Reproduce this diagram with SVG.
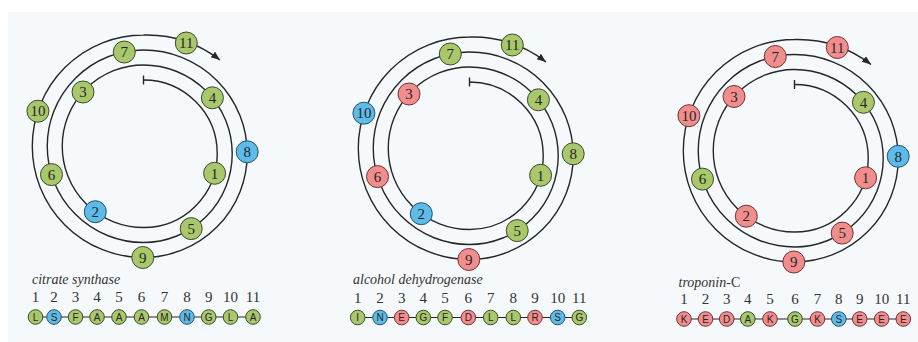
<svg xmlns="http://www.w3.org/2000/svg" xmlns:xlink="http://www.w3.org/1999/xlink" width="918" height="342" viewBox="0 0 918 342">
  <style>
    .sp{fill:none;stroke:#262626;stroke-width:1.4}
    .ln{stroke:#262626;stroke-width:1}
    .g{fill:#a9c76b;stroke:#3d4a2c;stroke-width:1}
    .b{fill:#5cbbe8;stroke:#2c4f66;stroke-width:1}
    .r{fill:#f28d8d;stroke:#6e3434;stroke-width:1}
    .wn{font-family:"Liberation Serif",serif;font-size:15px;fill:#262626;text-anchor:middle}
    .sl{font-family:"Liberation Sans",sans-serif;font-size:10px;fill:#262626;text-anchor:middle}
    .num{font-family:"Liberation Serif",serif;font-size:15px;fill:#333333;text-anchor:middle}
    .name{font-family:"Liberation Serif",serif;font-size:14px;font-style:italic;fill:#333333}
  </style>
  <defs>
    <marker id="ah" markerUnits="userSpaceOnUse" markerWidth="11" markerHeight="9" refX="9" refY="3.5" orient="auto">
      <path d="M0,0 L9,3.5 L0,7 Z" fill="#262626"/>
    </marker>
    <!-- helical wheel spiral: two-centre half-circle spiral, 100 degrees per residue -->
    <g id="spiral">
      <path class="sp" marker-end="url(#ah)" d="M143.5,80 A73.75,73.75 0 0 1 143.5,227.5 A81.25,81.25 0 0 1 143.5,65 A88.75,88.75 0 0 1 143.5,242.5 A96.25,96.25 0 0 1 143.5,50 A103.75,103.75 0 0 1 143.5,257.5 A111.25,111.25 0 0 1 143.5,35 A120,120 0 0 1 220,60"/>
      <line class="sp" x1="143.5" y1="75.5" x2="143.5" y2="84.5"/>
    </g>
  </defs>

  <!-- page background -->
  <rect width="918" height="342" fill="#ffffff"/>
  <rect x="8" y="12" width="910" height="330" fill="#f6f9fb"/>

  <g id="connectors">
    <use xlink:href="#spiral" href="#spiral"/>
    <use xlink:href="#spiral" href="#spiral" transform="translate(326,2)"/>
    <use xlink:href="#spiral" href="#spiral" transform="translate(651,4.5)"/>
    <line class="ln" x1="35.5" y1="317" x2="253" y2="317"/>
    <line class="ln" x1="357.7" y1="317.5" x2="579.3" y2="317.5"/>
    <line class="ln" x1="684" y1="319" x2="903.3" y2="319"/>
  </g>

  <!-- citrate synthase wheel -->
  <g id="wheel-cs">
    <g id="cs-w1" transform="translate(214.6,173.3)"><circle class="g" r="11"/><text class="wn" y="5.2">1</text></g>
    <g id="cs-w2" transform="translate(95.3,211.7)"><circle class="b" r="11"/><text class="wn" y="5.2">2</text></g>
    <g id="cs-w3" transform="translate(83,92)"><circle class="g" r="11"/><text class="wn" y="5.2">3</text></g>
    <g id="cs-w4" transform="translate(212.4,97.8)"><circle class="g" r="11"/><text class="wn" y="5.2">4</text></g>
    <g id="cs-w5" transform="translate(191.2,228.6)"><circle class="g" r="11"/><text class="wn" y="5.2">5</text></g>
    <g id="cs-w6" transform="translate(51.5,174.6)"><circle class="g" r="11"/><text class="wn" y="5.2">6</text></g>
    <g id="cs-w7" transform="translate(124.3,52)"><circle class="g" r="11"/><text class="wn" y="5.2">7</text></g>
    <g id="cs-w8" transform="translate(247.2,151.8)"><circle class="b" r="11"/><text class="wn" y="5.2">8</text></g>
    <g id="cs-w9" transform="translate(142.8,257.5)"><circle class="g" r="11"/><text class="wn" y="5.2">9</text></g>
    <g id="cs-w10" transform="translate(37.9,111.2)"><circle class="g" r="11"/><text class="wn" y="5.2">10</text></g>
    <g id="cs-w11" transform="translate(186.3,43)"><circle class="g" r="11"/><text class="wn" y="5.2">11</text></g>
  </g>

  <!-- alcohol dehydrogenase wheel -->
  <g id="wheel-adh" transform="translate(326,2)">
    <g id="adh-w1" transform="translate(214.6,173.3)"><circle class="g" r="11"/><text class="wn" y="5.2">1</text></g>
    <g id="adh-w2" transform="translate(95.3,211.7)"><circle class="b" r="11"/><text class="wn" y="5.2">2</text></g>
    <g id="adh-w3" transform="translate(83,92)"><circle class="r" r="11"/><text class="wn" y="5.2">3</text></g>
    <g id="adh-w4" transform="translate(212.4,97.8)"><circle class="g" r="11"/><text class="wn" y="5.2">4</text></g>
    <g id="adh-w5" transform="translate(191.2,228.6)"><circle class="g" r="11"/><text class="wn" y="5.2">5</text></g>
    <g id="adh-w6" transform="translate(51.5,174.6)"><circle class="r" r="11"/><text class="wn" y="5.2">6</text></g>
    <g id="adh-w7" transform="translate(124.3,52)"><circle class="g" r="11"/><text class="wn" y="5.2">7</text></g>
    <g id="adh-w8" transform="translate(247.2,151.8)"><circle class="g" r="11"/><text class="wn" y="5.2">8</text></g>
    <g id="adh-w9" transform="translate(142.8,257.5)"><circle class="r" r="11"/><text class="wn" y="5.2">9</text></g>
    <g id="adh-w10" transform="translate(37.9,111.2)"><circle class="b" r="11"/><text class="wn" y="5.2">10</text></g>
    <g id="adh-w11" transform="translate(186.3,43)"><circle class="g" r="11"/><text class="wn" y="5.2">11</text></g>
  </g>

  <!-- troponin-C wheel -->
  <g id="wheel-tnc" transform="translate(651,4.5)">
    <g id="tnc-w1" transform="translate(214.6,173.3)"><circle class="r" r="11"/><text class="wn" y="5.2">1</text></g>
    <g id="tnc-w2" transform="translate(95.3,211.7)"><circle class="r" r="11"/><text class="wn" y="5.2">2</text></g>
    <g id="tnc-w3" transform="translate(83,92)"><circle class="r" r="11"/><text class="wn" y="5.2">3</text></g>
    <g id="tnc-w4" transform="translate(212.4,97.8)"><circle class="g" r="11"/><text class="wn" y="5.2">4</text></g>
    <g id="tnc-w5" transform="translate(191.2,228.6)"><circle class="r" r="11"/><text class="wn" y="5.2">5</text></g>
    <g id="tnc-w6" transform="translate(51.5,174.6)"><circle class="g" r="11"/><text class="wn" y="5.2">6</text></g>
    <g id="tnc-w7" transform="translate(124.3,52)"><circle class="r" r="11"/><text class="wn" y="5.2">7</text></g>
    <g id="tnc-w8" transform="translate(247.2,151.8)"><circle class="b" r="11"/><text class="wn" y="5.2">8</text></g>
    <g id="tnc-w9" transform="translate(142.8,257.5)"><circle class="r" r="11"/><text class="wn" y="5.2">9</text></g>
    <g id="tnc-w10" transform="translate(37.9,111.2)"><circle class="r" r="11"/><text class="wn" y="5.2">10</text></g>
    <g id="tnc-w11" transform="translate(186.3,43)"><circle class="r" r="11"/><text class="wn" y="5.2">11</text></g>
  </g>

  <!-- sequence rows -->
  <g id="seq-cs">
    <text class="name" x="32" y="284">citrate synthase</text>
    <g id="cs-s1" transform="translate(35.5,317)"><text class="num" y="-15">1</text><circle class="g" r="7.3"/><text class="sl" y="3.6">L</text></g>
    <g id="cs-s2" transform="translate(54,317)"><text class="num" y="-15">2</text><circle class="b" r="7.3"/><text class="sl" y="3.6">S</text></g>
    <g id="cs-s3" transform="translate(75.5,317)"><text class="num" y="-15">3</text><circle class="g" r="7.3"/><text class="sl" y="3.6">F</text></g>
    <g id="cs-s4" transform="translate(97,317)"><text class="num" y="-15">4</text><circle class="g" r="7.3"/><text class="sl" y="3.6">A</text></g>
    <g id="cs-s5" transform="translate(119,317)"><text class="num" y="-15">5</text><circle class="g" r="7.3"/><text class="sl" y="3.6">A</text></g>
    <g id="cs-s6" transform="translate(141.5,317)"><text class="num" y="-15">6</text><circle class="g" r="7.3"/><text class="sl" y="3.6">A</text></g>
    <g id="cs-s7" transform="translate(164.5,317)"><text class="num" y="-15">7</text><circle class="g" r="7.3"/><text class="sl" y="3.6">M</text></g>
    <g id="cs-s8" transform="translate(187,317)"><text class="num" y="-15">8</text><circle class="b" r="7.3"/><text class="sl" y="3.6">N</text></g>
    <g id="cs-s9" transform="translate(208.7,317)"><text class="num" y="-15">9</text><circle class="g" r="7.3"/><text class="sl" y="3.6">G</text></g>
    <g id="cs-s10" transform="translate(230.5,317)"><text class="num" y="-15">10</text><circle class="g" r="7.3"/><text class="sl" y="3.6">L</text></g>
    <g id="cs-s11" transform="translate(253,317)"><text class="num" y="-15">11</text><circle class="g" r="7.3"/><text class="sl" y="3.6">A</text></g>
  </g>

  <g id="seq-adh">
    <text class="name" x="353" y="283.5">alcohol dehydrogenase</text>
    <g id="adh-s1" transform="translate(357.7,317.5)"><text class="num" y="-15">1</text><circle class="g" r="7.3"/><text class="sl" y="3.6">I</text></g>
    <g id="adh-s2" transform="translate(380,317.5)"><text class="num" y="-15">2</text><circle class="b" r="7.3"/><text class="sl" y="3.6">N</text></g>
    <g id="adh-s3" transform="translate(401.7,317.5)"><text class="num" y="-15">3</text><circle class="r" r="7.3"/><text class="sl" y="3.6">E</text></g>
    <g id="adh-s4" transform="translate(423.3,317.5)"><text class="num" y="-15">4</text><circle class="g" r="7.3"/><text class="sl" y="3.6">G</text></g>
    <g id="adh-s5" transform="translate(445,317.5)"><text class="num" y="-15">5</text><circle class="g" r="7.3"/><text class="sl" y="3.6">F</text></g>
    <g id="adh-s6" transform="translate(468.3,317.5)"><text class="num" y="-15">6</text><circle class="r" r="7.3"/><text class="sl" y="3.6">D</text></g>
    <g id="adh-s7" transform="translate(490.7,317.5)"><text class="num" y="-15">7</text><circle class="g" r="7.3"/><text class="sl" y="3.6">L</text></g>
    <g id="adh-s8" transform="translate(513.3,317.5)"><text class="num" y="-15">8</text><circle class="g" r="7.3"/><text class="sl" y="3.6">L</text></g>
    <g id="adh-s9" transform="translate(535,317.5)"><text class="num" y="-15">9</text><circle class="r" r="7.3"/><text class="sl" y="3.6">R</text></g>
    <g id="adh-s10" transform="translate(557.7,317.5)"><text class="num" y="-15">10</text><circle class="b" r="7.3"/><text class="sl" y="3.6">S</text></g>
    <g id="adh-s11" transform="translate(579.3,317.5)"><text class="num" y="-15">11</text><circle class="g" r="7.3"/><text class="sl" y="3.6">G</text></g>
  </g>

  <g id="seq-tnc">
    <text class="name" x="678.5" y="286.5">troponin<tspan font-style="normal">-C</tspan></text>
    <g id="tnc-s1" transform="translate(684,319)"><text class="num" y="-15">1</text><circle class="r" r="7.3"/><text class="sl" y="3.6">K</text></g>
    <g id="tnc-s2" transform="translate(705.5,319)"><text class="num" y="-15">2</text><circle class="r" r="7.3"/><text class="sl" y="3.6">E</text></g>
    <g id="tnc-s3" transform="translate(726.7,319)"><text class="num" y="-15">3</text><circle class="r" r="7.3"/><text class="sl" y="3.6">D</text></g>
    <g id="tnc-s4" transform="translate(747.8,319)"><text class="num" y="-15">4</text><circle class="g" r="7.3"/><text class="sl" y="3.6">A</text></g>
    <g id="tnc-s5" transform="translate(770,319)"><text class="num" y="-15">5</text><circle class="r" r="7.3"/><text class="sl" y="3.6">K</text></g>
    <g id="tnc-s6" transform="translate(795,319)"><text class="num" y="-15">6</text><circle class="g" r="7.3"/><text class="sl" y="3.6">G</text></g>
    <g id="tnc-s7" transform="translate(817.5,319)"><text class="num" y="-15">7</text><circle class="r" r="7.3"/><text class="sl" y="3.6">K</text></g>
    <g id="tnc-s8" transform="translate(838.8,319)"><text class="num" y="-15">8</text><circle class="b" r="7.3"/><text class="sl" y="3.6">S</text></g>
    <g id="tnc-s9" transform="translate(859.7,319)"><text class="num" y="-15">9</text><circle class="r" r="7.3"/><text class="sl" y="3.6">E</text></g>
    <g id="tnc-s10" transform="translate(881.7,319)"><text class="num" y="-15">10</text><circle class="r" r="7.3"/><text class="sl" y="3.6">E</text></g>
    <g id="tnc-s11" transform="translate(903.3,319)"><text class="num" y="-15">11</text><circle class="r" r="7.3"/><text class="sl" y="3.6">E</text></g>
  </g>
</svg>
